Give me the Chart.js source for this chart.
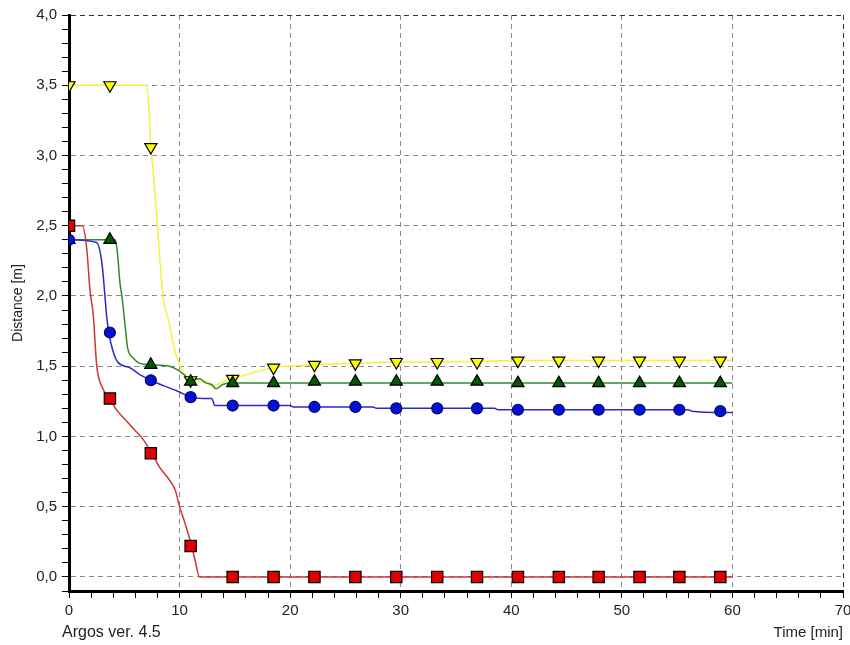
<!DOCTYPE html>
<html>
<head>
<meta charset="utf-8">
<title>Distance</title>
<script src="https://cdn.jsdelivr.net/npm/chart.js@4.4.1/dist/chart.umd.min.js"></script>
<style>
  body { margin: 0; background: #fff; }
  canvas { display: block; }
</style>
</head>
<body>
<canvas id="chartCanvas" width="850" height="645"></canvas>
<script>
// curve samples: time [min] / distance [m]
const redT = [0, 1.2, 1.6, 1.9, 2.2, 2.5, 3.0, 3.7, 4.2, 5.2, 6.0, 6.6, 7.5, 8.2, 8.9, 9.6, 10.0, 10.5, 11.1, 11.4, 11.8, 60];
const redV = [2.5, 2.5, 2.34, 2.04, 1.86, 1.51, 1.35, 1.27, 1.20, 1.11, 1.04, 0.99, 0.88, 0.78, 0.71, 0.62, 0.50, 0.38, 0.22, 0.12, 0, 0];

const blueT = [0, 2.5, 3.0, 3.25, 3.4, 3.6, 3.9, 4.4, 5.5, 6.4, 7.4, 8.6, 9.9, 11.0, 12.1, 12.9, 13.2, 20.0, 20.3, 27.5, 27.8, 38.5, 38.8, 56.0, 56.3, 60];
const blueV = [2.4, 2.38, 2.22, 2.0, 1.86, 1.74, 1.63, 1.53, 1.49, 1.44, 1.40, 1.36, 1.32, 1.28, 1.27, 1.27, 1.22, 1.22, 1.21, 1.21, 1.20, 1.20, 1.19, 1.19, 1.18, 1.17];

const greenT = [0, 4.2, 4.4, 4.6, 4.8, 5.1, 5.3, 5.8, 6.4, 7.5, 9.1, 9.9, 10.7, 11.0, 11.8, 12.4, 12.9, 13.3, 13.9, 14.8, 60];
const greenV = [2.4, 2.4, 2.29, 2.10, 1.99, 1.77, 1.63, 1.56, 1.52, 1.51, 1.50, 1.47, 1.42, 1.40, 1.41, 1.38, 1.37, 1.34, 1.37, 1.38, 1.38];

const yellowT = [0, 7.0, 7.2, 7.4, 7.6, 8.0, 8.5, 9.0, 9.6, 10.0, 10.5, 11.0, 11.8, 12.5, 13.0, 13.6, 14.8, 16.5, 18.5, 22.2, 25.9, 29.6, 33.3, 40.6, 60];
const yellowV = [3.5, 3.5, 3.37, 3.06, 2.90, 2.5, 2.0, 1.83, 1.60, 1.51, 1.44, 1.40, 1.39, 1.39, 1.35, 1.38, 1.41, 1.45, 1.49, 1.51, 1.52, 1.53, 1.53, 1.54, 1.54];

// symbol positions
const markT = [0, 3.7, 7.4, 11.0, 14.8, 18.5, 22.2, 25.9, 29.6, 33.3, 36.9, 40.6, 44.3, 47.9, 51.6, 55.2, 58.9];
const redMarks = [2.5, 1.27, 0.88, 0.22, 0, 0, 0, 0, 0, 0, 0, 0, 0, 0, 0, 0, 0];
const blueMarks = [2.4, 1.74, 1.40, 1.28, 1.22, 1.22, 1.21, 1.21, 1.20, 1.20, 1.20, 1.19, 1.19, 1.19, 1.19, 1.19, 1.18];
const greenMarks = [2.4, 2.4, 1.51, 1.39, 1.38, 1.38, 1.39, 1.39, 1.39, 1.39, 1.39, 1.38, 1.38, 1.38, 1.38, 1.38, 1.38];
const yellowMarks = [3.5, 3.5, 3.06, 1.40, 1.41, 1.49, 1.51, 1.52, 1.53, 1.53, 1.53, 1.54, 1.54, 1.54, 1.54, 1.54, 1.54];

const yTickLabels = ['0,0', '0,5', '1,0', '1,5', '2,0', '2,5', '3,0', '3,5', '4,0'];
const xTickLabels = ['0', '10', '20', '30', '40', '50', '60', '70'];
const footText = 'Argos ver. 4.5';

Chart.defaults.font.family = '"Liberation Sans", Arial, sans-serif';
Chart.defaults.color = '#222';

function pts(ts, vs) {
  return ts.map((t, i) => ({ x: t, y: vs[i] }));
}

function curve(ts, vs, col) {
  return {
    data: pts(ts, vs),
    showLine: true,
    borderColor: col,
    borderWidth: 1.5,
    pointRadius: 0,
    cubicInterpolationMode: 'monotone',
    fill: false,
    order: 1
  };
}

function marks(vs, fill, edge, style, r, rot) {
  return {
    data: pts(markT, vs),
    showLine: false,
    pointStyle: style,
    pointRadius: r,
    pointHoverRadius: r,
    pointRotation: rot,
    backgroundColor: fill,
    borderColor: edge,
    borderWidth: 1.2,
    order: 0
  };
}

function isMajorY(v) {
  return Math.abs(v * 2 - Math.round(v * 2)) < 1e-6 && v > -0.05;
}

// small text in the lower left corner
const footPlugin = {
  id: 'foot',
  afterDraw(chart) {
    const ctx = chart.ctx;
    ctx.save();
    ctx.font = '16px "Liberation Sans", Arial, sans-serif';
    ctx.fillStyle = '#222';
    ctx.textAlign = 'left';
    ctx.textBaseline = 'middle';
    ctx.fillText(footText, 62, 633);
    ctx.restore();
  }
};

const ctx = document.getElementById('chartCanvas');
new Chart(ctx, {
  type: 'scatter',
  data: {
    datasets: [
      marks(redMarks, '#e00000', '#000', 'rect', 8, 0),
      marks(blueMarks, '#0014d0', '#000070', 'circle', 5.5, 0),
      marks(greenMarks, '#005a00', '#000', 'triangle', 7, 0),
      marks(yellowMarks, '#ffff00', '#000', 'triangle', 7, 180),
      curve(redT, redV, '#d03535'),
      curve(blueT, blueV, '#2a2ac8'),
      curve(greenT, greenV, '#2f8a2f'),
      curve(yellowT, yellowV, '#f4f438')
    ]
  },
  options: {
    responsive: false,
    animation: false,
    layout: { autoPadding: false, padding: { top: 15, right: 0, left: 0, bottom: 0 } },
    plugins: {
      legend: { display: false },
      tooltip: { enabled: false }
    },
    scales: {
      x: {
        type: 'linear',
        min: 0,
        max: 70,
        ticks: {
          stepSize: 2,
          autoSkip: false,
          maxRotation: 0,
          padding: 4,
          font: { size: 15 },
          callback: v => (v % 10 === 0 ? xTickLabels[v / 10] : '')
        },
        grid: {
          color: c => (c.tick.value === 70 ? '#333' : (c.tick.value % 10 === 0 ? '#8a8a8a' : 'rgba(0,0,0,0)')),
          lineWidth: 1,
          tickLength: 7,
          tickColor: '#000'
        },
        border: { display: true, color: '#000', width: 3, dash: [5, 4] },
        title: {
          display: true,
          text: 'Time [min]',
          align: 'end',
          font: { size: 15 },
          padding: { top: 0, bottom: 3 }
        },
        afterFit: s => {
          s.height = 54;
          s.paddingLeft = 0;
          s.paddingRight = 7;
        }
      },
      y: {
        type: 'linear',
        min: -0.1,
        max: 4.0,
        ticks: {
          stepSize: 0.1,
          autoSkip: false,
          padding: 5,
          font: { size: 15 },
          callback: v => (isMajorY(v) ? yTickLabels[Math.round(v * 2)] : '')
        },
        grid: {
          color: c => {
            const v = c.tick.value;
            if (Math.abs(v - 4) < 1e-6) return '#333';
            return isMajorY(v) ? '#8a8a8a' : 'rgba(0,0,0,0)';
          },
          lineWidth: 1,
          tickLength: 7,
          tickColor: '#000'
        },
        border: { display: true, color: '#000', width: 3, dash: [5, 4] },
        title: {
          display: true,
          text: 'Distance [m]',
          font: { size: 14 },
          padding: { top: 10, bottom: 0 }
        },
        afterFit: s => { s.width = 69; }
      }
    }
  },
  plugins: [footPlugin]
});
</script>
</body>
</html>
